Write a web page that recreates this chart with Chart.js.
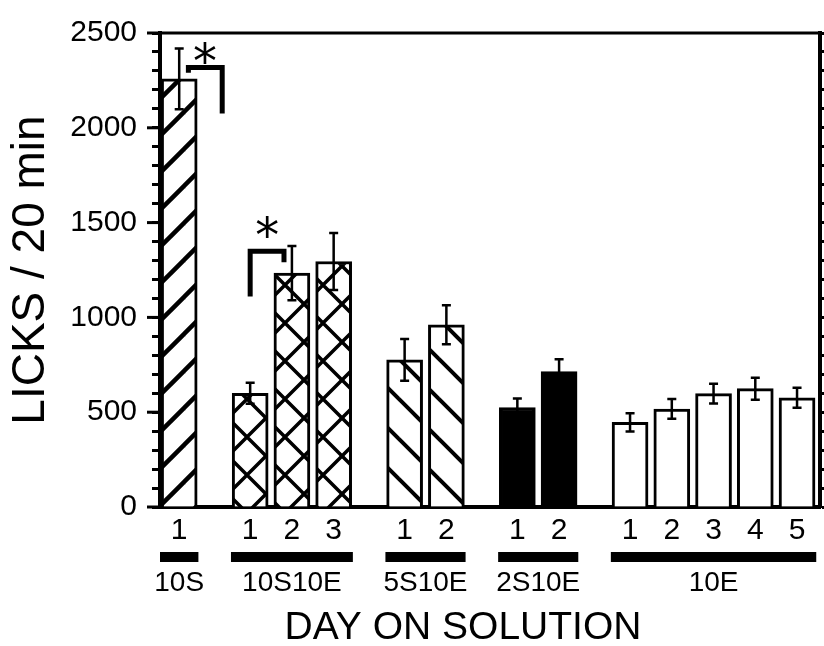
<!DOCTYPE html>
<html>
<head>
<meta charset="utf-8">
<script src="https://cdn.jsdelivr.net/npm/chart.js@4.4.0/dist/chart.umd.min.js"></script>
<style>
  html, body { margin: 0; padding: 0; background: #fff; }
</style>
</head>
<body>
<canvas id="licksChart" width="824" height="646"></canvas>
<script>
// Datos del gráfico
const grupos = ['10S', '10S10E', '5S10E', '2S10E', '10E'];
const diasPorGrupo = [1, 3, 2, 2, 5];
const dias = ['1', '1', '2', '3', '1', '2', '1', '2', '1', '2', '3', '4', '5'];
const lamidas = [2258, 600, 1234, 1295, 776, 961, 525, 714, 446, 517, 598, 624, 576];
const errores = [160, 55, 143, 150, 110, 103, 47, 65, 48, 52, 52, 58, 53];
const marcasY = [0, 500, 1000, 1500, 2000, 2500];

const fuente = "'Liberation Sans', Arial, sans-serif";
const huecoGrupos = 0.7;

// Posición de cada barra: una unidad por día y un hueco extra entre grupos
const posiciones = [];
const grupoDeBarra = [];
let pos = 0;
diasPorGrupo.forEach((n, g) => {
    for (let i = 0; i < n; i++) {
        posiciones.push(pos);
        grupoDeBarra.push(g);
        pos += 1;
    }
    pos += huecoGrupos;
});

// Rayados para el relleno de las barras
function crearRayado(tipo, p, grosor) {
    const c = document.createElement('canvas');
    c.width = p;
    c.height = p;
    const g = c.getContext('2d');
    g.fillStyle = '#fff';
    g.fillRect(0, 0, p, p);
    g.strokeStyle = '#000';
    g.lineWidth = grosor;
    for (const o of [-p, 0, p]) {
        g.beginPath();
        if (tipo === '/' || tipo === 'x') {
            g.moveTo(o - 2, p + 2);
            g.lineTo(o + p + 2, -2);
        }
        if (tipo === '\\' || tipo === 'x') {
            g.moveTo(o - 2, -2);
            g.lineTo(o + p + 2, p + 2);
        }
        g.stroke();
    }
    return c;
}

const ctx = document.getElementById('licksChart').getContext('2d');
const rellenosGrupo = [
    ctx.createPattern(crearRayado('/', 37, 4.5), 'repeat'),
    ctx.createPattern(crearRayado('x', 38, 3.5), 'repeat'),
    ctx.createPattern(crearRayado('\\', 40, 4), 'repeat'),
    '#000',
    '#fff'
];

// Corchetes de significación (en unidades de los ejes)
const corchetes = [
    { x1: 0.22, x2: 1.03, y: 2318, pieIzq: 2290, pieDer: 2075, estrellaX: 0.62, estrellaY: 2396 },
    { x1: 1.70, x2: 2.51, y: 1349, pieIzq: 1110, pieDer: 1291, estrellaX: 2.11, estrellaY: 1478 }
];

function dibujarAsterisco(c, cx, cy, ancho) {
    c.textAlign = 'left';
    c.textBaseline = 'alphabetic';
    c.font = "100px 'DejaVu Sans'";
    let m = c.measureText('*');
    const tam = 100 * ancho / (m.actualBoundingBoxLeft + m.actualBoundingBoxRight);
    c.font = tam + "px 'DejaVu Sans'";
    m = c.measureText('*');
    c.fillText('*', cx - (m.actualBoundingBoxRight - m.actualBoundingBoxLeft) / 2,
        cy + (m.actualBoundingBoxAscent - m.actualBoundingBoxDescent) / 2);
}

// Barras de error
const barrasError = {
    id: 'barrasError',
    afterDatasetsDraw(chart) {
        const c = chart.ctx;
        const y = chart.scales.y;
        c.save();
        c.strokeStyle = '#000';
        c.lineWidth = 2.5;
        chart.getDatasetMeta(0).data.forEach((bar, i) => {
            const arriba = y.getPixelForValue(lamidas[i] + errores[i]);
            const abajo = y.getPixelForValue(lamidas[i] - errores[i]);
            c.beginPath();
            c.moveTo(bar.x, arriba);
            c.lineTo(bar.x, abajo);
            c.moveTo(bar.x - 4.5, arriba);
            c.lineTo(bar.x + 4.5, arriba);
            c.moveTo(bar.x - 4.5, abajo);
            c.lineTo(bar.x + 4.5, abajo);
            c.stroke();
        });
        c.restore();
    }
};

// Marco, marcas mayores, grupos, título x y corchetes
const extras = {
    id: 'extras',
    afterDraw(chart) {
        const c = chart.ctx;
        const area = chart.chartArea;
        const x = chart.scales.x;
        const y = chart.scales.y;
        c.save();
        c.strokeStyle = '#000';
        c.fillStyle = '#000';

        // línea superior
        c.lineWidth = 3;
        c.beginPath();
        c.moveTo(area.left - 2, area.top);
        c.lineTo(area.right + 2, area.top);
        c.stroke();

        // marcas mayores del eje y
        c.lineWidth = 3;
        marcasY.forEach(v => {
            const py = y.getPixelForValue(v);
            c.beginPath();
            c.moveTo(area.left - 13, py);
            c.lineTo(area.left, py);
            c.stroke();
        });

        // barras y nombres de los grupos
        c.font = '28px ' + fuente;
        c.textAlign = 'center';
        c.textBaseline = 'middle';
        let inicio = 0;
        diasPorGrupo.forEach((n, g) => {
            const a = x.getPixelForValue(posiciones[inicio] - 0.46);
            const b = x.getPixelForValue(posiciones[inicio + n - 1] + 0.46);
            c.fillRect(a, area.bottom + 45, b - a, 10);
            c.fillText(grupos[g], (a + b) / 2, area.bottom + 76);
            inicio += n;
        });

        // título del eje x
        c.font = '39px ' + fuente;
        c.fillText('DAY ON SOLUTION', area.left + 303, area.bottom + 121);

        // corchetes y asteriscos
        c.lineWidth = 5;
        c.lineJoin = 'miter';
        corchetes.forEach(k => {
            const x1 = x.getPixelForValue(k.x1);
            const x2 = x.getPixelForValue(k.x2);
            c.beginPath();
            c.moveTo(x1, y.getPixelForValue(k.pieIzq));
            c.lineTo(x1, y.getPixelForValue(k.y));
            c.lineTo(x2, y.getPixelForValue(k.y));
            c.lineTo(x2, y.getPixelForValue(k.pieDer));
            c.stroke();
            dibujarAsterisco(c, x.getPixelForValue(k.estrellaX), y.getPixelForValue(k.estrellaY), 22);
        });
        c.restore();
    }
};

const chart = new Chart(ctx, {
    type: 'bar',
    data: {
        datasets: [{
            data: posiciones.map((p, i) => ({ x: p, y: lamidas[i] })),
            backgroundColor: grupoDeBarra.map(g => rellenosGrupo[g]),
            borderColor: '#000',
            borderWidth: 3,
            barThickness: 36
        }]
    },
    options: {
        responsive: false,
        animation: false,
        layout: { padding: { top: 25, right: 0, bottom: 0, left: 0 } },
        plugins: {
            legend: { display: false },
            tooltip: { enabled: false }
        },
        scales: {
            x: {
                type: 'linear',
                offset: false,
                min: -0.46,
                max: 15.35,
                afterBuildTicks(s) {
                    s.ticks = posiciones.map(v => ({ value: v }));
                },
                ticks: {
                    autoSkip: false,
                    maxRotation: 0,
                    padding: 6,
                    color: '#000',
                    font: { family: fuente, size: 30 },
                    callback: (v, i) => dias[i]
                },
                grid: { display: false, drawTicks: false, tickLength: 0 },
                border: { color: '#000', width: 4 },
                afterFit(s) { s.height = 139; }
            },
            y: {
                min: 0,
                max: 2500,
                ticks: {
                    stepSize: 100,
                    autoSkip: false,
                    padding: 15,
                    color: '#000',
                    font: { family: fuente, size: 30 },
                    callback: v => (v % 500 === 0 ? v : '')
                },
                grid: { drawOnChartArea: false, tickLength: 8, tickWidth: 3, tickColor: '#000' },
                border: { color: '#000', width: 4 },
                title: {
                    display: true,
                    text: 'LICKS / 20 min',
                    color: '#000',
                    font: { family: fuente, size: 46, lineHeight: 1.2 },
                    padding: { top: 4, bottom: 0 }
                },
                afterFit(s) { s.width = 160; }
            },
            y2: {
                type: 'linear',
                position: 'right',
                min: 0,
                max: 2500,
                ticks: { stepSize: 100, display: false },
                grid: { drawOnChartArea: false, tickLength: 8, tickWidth: 3, tickColor: '#000' },
                border: { color: '#000', width: 4 },
                afterFit(s) { s.width = 4; }
            }
        }
    },
    plugins: [barrasError, extras]
});
</script>
</body>
</html>
